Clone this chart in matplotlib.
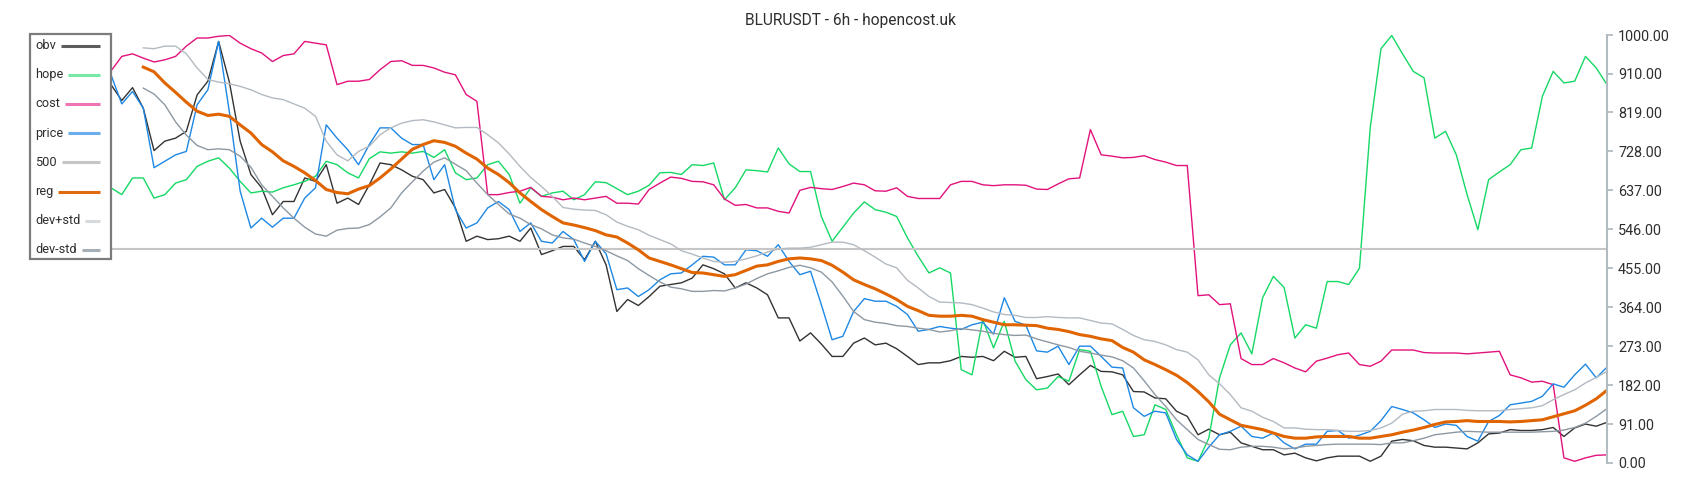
import numpy as np
import matplotlib
matplotlib.use("Agg")
import matplotlib.pyplot as plt
from matplotlib.lines import Line2D
from matplotlib.patches import Rectangle

title = "BLURUSDT - 6h - hopencost.uk"
legend_labels = ["obv", "hope", "cost", "price", "500", "reg", "dev+std", "dev-std"]
yticks = [0, 91, 182, 273, 364, 455, 546, 637, 728, 819, 910, 1000]
level_500 = 500
band_start = 3  # first bar index of the rolling series (reg / dev bands)

obv = [884, 847, 877, 829, 730, 752, 759, 775, 860, 892, 985, 890, 752, 674, 643, 580, 611, 611, 666, 658, 697, 607, 619, 604,
       650, 701, 697, 685, 670, 662, 631, 639, 596, 518, 530, 522, 524, 530, 518, 549, 487, 496, 506, 506, 475, 518, 463,
       354, 382, 368, 389, 413, 417, 421, 432, 463, 454, 442, 409, 421, 409, 393, 339, 339, 285, 304, 278, 249, 249, 280,
       292, 276, 280, 267, 249, 230, 234, 234, 239, 249, 247, 249, 239, 261, 247, 249, 197, 202, 208, 183, 206, 228, 214,
       213, 206, 167, 166, 152, 150, 121, 109, 66, 79, 66, 72, 47, 39, 31, 31, 19, 23, 12, 5, 12, 16, 16, 16,
       4, 16, 51, 55, 52, 41, 37, 37, 35, 33, 47, 68, 70, 78, 76, 76, 78, 83, 62, 82, 91, 86, 95]

hope = [643, 627, 666, 666, 619, 627, 654, 662, 693, 705, 713, 689, 658, 631, 635, 633, 643, 650, 658, 670, 705, 697, 678, 666,
        711, 727, 724, 727, 724, 728, 714, 732, 678, 662, 666, 697, 705, 674, 607, 643, 623, 631, 635, 615, 627, 657, 655,
        641, 627, 635, 649, 678, 679, 674, 697, 695, 701, 615, 643, 685, 683, 680, 736, 699, 681, 681, 576, 518, 551, 584,
        610, 592, 586, 576, 526, 483, 444, 456, 444, 218, 206, 335, 269, 331, 238, 195, 171, 175, 202, 191, 265, 261, 179,
        113, 121, 62, 66, 136, 125, 66, 12, 4, 58, 199, 276, 304, 255, 386, 436, 410, 292, 323, 315, 424, 424, 417, 455,
        783, 968, 999, 956, 915, 900, 759, 775, 720, 627, 545, 662, 680, 697, 732, 736, 857, 915, 888, 892, 950, 923, 884]

cost = [916, 950, 956, 946, 937, 942, 950, 974, 993, 993, 997, 999, 981, 968, 958, 938, 952, 956, 985, 981, 977, 884, 892, 892,
        896, 919, 938, 940, 929, 929, 923, 913, 907, 861, 845, 627, 627, 632, 635, 644, 623, 621, 615, 619, 615, 619, 623,
        607, 607, 605, 639, 654, 668, 665, 658, 657, 650, 617, 602, 604, 596, 596, 588, 584, 637, 644, 641, 639, 646, 654,
        650, 636, 635, 643, 623, 618, 618, 618, 650, 658, 658, 650, 648, 650, 650, 649, 640, 639, 652, 664, 666, 779, 720,
        717, 713, 714, 718, 709, 703, 695, 695, 391, 393, 370, 372, 244, 230, 230, 244, 234, 222, 213, 238, 245, 253, 257, 230,
        226, 238, 264, 264, 264, 258, 257, 257, 257, 255, 257, 259, 261, 206, 199, 189, 191, 183, 12, 4, 12, 18, 19]

price = [907, 839, 868, 829, 690, 705, 720, 728, 837, 872, 985, 820, 635, 549, 572, 551, 572, 572, 619, 643, 790, 759, 732, 697,
         744, 783, 783, 759, 744, 744, 662, 697, 592, 549, 561, 596, 611, 592, 541, 561, 518, 514, 541, 522, 471, 518, 489,
         405, 409, 389, 405, 428, 442, 444, 463, 483, 481, 463, 463, 498, 496, 483, 510, 471, 440, 448, 370, 288, 296, 354,
         384, 378, 378, 366, 347, 308, 312, 319, 315, 312, 323, 329, 301, 386, 331, 322, 262, 259, 273, 230, 273, 273, 249,
         224, 222, 129, 109, 121, 117, 55, 19, 4, 37, 66, 74, 86, 62, 58, 70, 47, 33, 44, 44, 74, 76, 58, 65,
         74, 99, 132, 125, 117, 101, 83, 91, 88, 62, 51, 97, 111, 136, 140, 144, 156, 185, 177, 206, 231, 199, 224]

reg = [925, 914, 888, 866, 843, 822, 812, 815, 810, 790, 771, 744, 727, 706, 693, 678, 660, 639, 632, 629, 640,
       648, 666, 687, 710, 733, 744, 753, 749, 740, 724, 710, 689, 674, 655, 631, 611, 592, 576, 561, 556, 550, 543, 533,
       528, 514, 498, 479, 471, 463, 454, 445, 444, 440, 436, 440, 450, 460, 463, 471, 477, 479, 477, 473, 462, 446, 428,
       417, 407, 395, 382, 366, 356, 345, 343, 343, 345, 343, 335, 329, 323, 323, 322, 321, 315, 312, 307, 300, 296, 290,
       286, 270, 259, 241, 230, 218, 205, 188, 167, 143, 114, 101, 88, 83, 78, 70, 62, 58, 58, 61, 62, 62, 62, 58,
       58, 62, 66, 72, 77, 83, 90, 96, 97, 99, 97, 97, 97, 96, 97, 99, 101, 108, 115, 122, 135, 150, 170]

dev_plus_std = [970, 968, 974, 974, 956, 923, 896, 890, 886, 880, 872, 861, 853, 849, 839, 829, 810, 752, 720, 706, 728,
                740, 767, 783, 794, 800, 802, 797, 790, 783, 784, 784, 767, 748, 722, 693, 667, 646, 623, 597, 593, 591, 590, 580,
                563, 553, 545, 532, 522, 512, 496, 488, 479, 471, 469, 471, 477, 484, 493, 500, 502, 502, 504, 510, 516, 516, 510,
                496, 481, 465, 456, 427, 409, 389, 376, 375, 374, 370, 362, 353, 347, 345, 340, 340, 342, 340, 339, 339, 333, 327,
                325, 312, 298, 288, 284, 276, 265, 259, 241, 206, 185, 160, 129, 121, 107, 97, 82, 82, 79, 78, 78, 76, 74, 74,
                76, 82, 93, 114, 121, 122, 125, 125, 125, 123, 122, 122, 122, 125, 127, 129, 134, 148, 160, 171, 187, 200, 214]

dev_minus_std = [876, 862, 837, 797, 766, 742, 732, 734, 732, 717, 691, 650, 623, 596, 572, 551, 535, 530, 544, 548, 549,
                 557, 575, 596, 631, 657, 682, 703, 713, 698, 683, 654, 627, 604, 582, 572, 557, 547, 533, 526, 523, 514, 506, 496,
                 484, 473, 454, 438, 423, 411, 407, 401, 401, 403, 402, 409, 418, 431, 442, 449, 457, 462, 456, 446, 423, 390, 354,
                 335, 329, 326, 321, 319, 315, 312, 306, 309, 314, 311, 308, 303, 300, 298, 299, 290, 283, 276, 270, 261, 257, 252,
                 248, 239, 222, 192, 160, 132, 101, 78, 55, 43, 32, 31, 37, 39, 39, 37, 33, 35, 39, 41, 43, 44, 44, 44,
                 44, 43, 47, 47, 52, 58, 66, 69, 72, 74, 73, 72, 72, 72, 72, 72, 73, 74, 77, 83, 93, 109, 127]

plt.rcParams['font.family'] = ['Roboto', 'DejaVu Sans']

W, H = 1700, 500
fig = plt.figure(figsize=(W / 100, H / 100), dpi=100)
fig.patch.set_facecolor('white')
ax_l, ax_r, ax_t, ax_b = 111, 1607, 35, 463
ax = fig.add_axes([ax_l / W, 1 - ax_b / H, (ax_r - ax_l) / W, (ax_b - ax_t) / H])

styles = {
    "obv": dict(color='#333333', lw=1.0),
    "hope": dict(color='#16d865', lw=1.0),
    "cost": dict(color='#e2127c', lw=1.0),
    "price": dict(color='#1e88e5', lw=1.0),
    "500": dict(color='#c6c6c6', lw=1.5),
    "reg": dict(color='#e06400', lw=2.2),
    "dev+std": dict(color='#b3bac1', lw=1.0),
    "dev-std": dict(color='#8d98a2', lw=1.0),
}
legend_colors = {
    "obv": '#5c5c5c', "hope": '#78e8a6', "cost": '#ee74b4', "price": '#6aaeee',
    "500": '#c6c6c6', "reg": '#e06a10', "dev+std": '#d6dadd', "dev-std": '#a7afb6',
}

x = np.arange(len(obv))
xb = np.arange(band_start, band_start + len(reg))
ax.plot(x, obv, **styles["obv"])
ax.plot(x, hope, **styles["hope"])
ax.plot(x, cost, **styles["cost"])
ax.plot(x, price, **styles["price"])
ax.axhline(level_500, **styles["500"])
ax.plot(xb, reg, **styles["reg"])
ax.plot(xb, dev_plus_std, **styles["dev+std"])
ax.plot(xb, dev_minus_std, **styles["dev-std"])

ax.set_xlim(0, len(obv) - 1)
ax.set_ylim(0, 1000)
for s in ['left', 'top', 'bottom']:
    ax.spines[s].set_visible(False)
ax.spines['right'].set_color('#b3bbc2')
ax.spines['right'].set_linewidth(1.5)
ax.set_xticks([])
ax.yaxis.tick_right()
ax.set_yticks(yticks)
ax.set_yticklabels([f"{v:.2f}" for v in yticks])
ax.tick_params(axis='y', length=4, width=1.3, color='#b3bbc2', labelsize=10.4,
               labelcolor='#2e2e2e', pad=4)
ax.set_facecolor('none')

fig.text(0.5, 1 - 20.5 / H, title, ha='center', va='center', fontsize=11.2, color='#2e2e2e')

# legend box (drawn in figure pixels)
def fx(px):
    return px / W

def fy(py):
    return 1 - py / H

box = Rectangle((fx(30), fy(259)), fx(111) - fx(30), fy(34) - fy(259), transform=fig.transFigure,
                facecolor='white', edgecolor='#7c7c7c', lw=1.6, zorder=5)
fig.add_artist(box)
texts = []
for k, lab in enumerate(legend_labels):
    yc = 45.5 + 29.2 * k
    t = fig.text(fx(35), fy(yc), lab, ha='left', va='center', fontsize=9.2, color='#2e2e2e', zorder=6)
    texts.append((t, yc, lab))
fig.canvas.draw()
renderer = fig.canvas.get_renderer()
for t, yc, lab in texts:
    bb = t.get_window_extent(renderer)
    x0 = bb.x1 + 5
    fig.add_artist(Line2D([x0 / W, fx(100)], [fy(yc), fy(yc)], transform=fig.transFigure,
                          color=legend_colors[lab], lw=2.2, zorder=6, solid_capstyle='butt'))

fig.savefig('out.png', dpi=100, facecolor='white')
